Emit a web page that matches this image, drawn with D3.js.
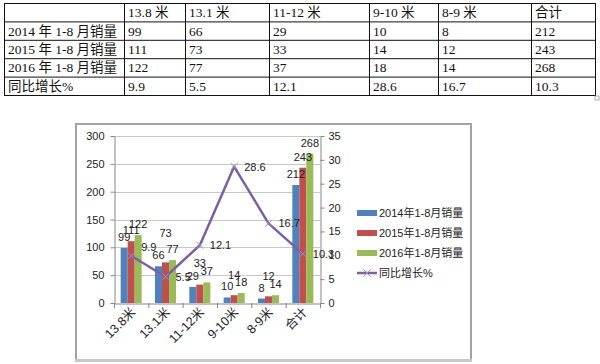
<!DOCTYPE html>
<html><head><meta charset="utf-8">
<script src="https://cdn.jsdelivr.net/npm/d3@7"></script>
<style>html,body{margin:0;padding:0;background:#fff}svg{display:block}</style>
</head><body>
<svg id="c" width="600" height="364"></svg>
<script>
// ---------- data ----------
const categories = ["13.8米", "13.1米", "11-12米", "9-10米", "8-9米", "合计"];
const tableHeaders = ["13.8 米", "13.1 米", "11-12 米", "9-10 米", "8-9 米", "合计"];
const seriesNames = ["2014年1-8月销量", "2015年1-8月销量", "2016年1-8月销量"];
const tableRowNames = ["2014 年 1-8 月销量", "2015 年 1-8 月销量", "2016 年 1-8 月销量", "同比增长%"];
const sales2014 = [99, 66, 29, 10, 8, 212];
const sales2015 = [111, 73, 33, 14, 12, 243];
const sales2016 = [122, 77, 37, 18, 14, 268];
const growth = [9.9, 5.5, 12.1, 28.6, 16.7, 10.3];
const growthName = "同比增长%";
const leftTicks = [0, 50, 100, 150, 200, 250, 300];
const rightTicks = [0, 5, 10, 15, 20, 25, 30, 35];

// ---------- style ----------
const colors = ["#4F81BD", "#C0504D", "#9BBB59"];
const lineColor = "#7D5FA3";
const sansCJK = "'Liberation Sans','Noto Sans CJK SC',sans-serif";
const serifCJK = "'Liberation Serif','Noto Sans CJK SC',serif";
// manual label nudges (px, vertical) as in the original
const barLabelNudge = {"1-1": -18, "1-2": -11, "1-3": -9, "1-4": -9};
const lineLabelNudge = {0: -9};

const svg = d3.select("#c");
const salesSeries = [sales2014, sales2015, sales2016];

// ---------- table ----------
const colEdges = [4, 124, 185, 269, 369, 438, 531, 595];
const rowY = d3.scaleLinear().domain([0, 5]).range([3, 95]);
const tg = svg.append("g");
const fmt = d => String(d);
const tableRows = [
  ["", ...tableHeaders],
  [tableRowNames[0], ...sales2014.map(fmt)],
  [tableRowNames[1], ...sales2015.map(fmt)],
  [tableRowNames[2], ...sales2016.map(fmt)],
  [tableRowNames[3], ...growth.map(d => d.toFixed(1))]
];
tableRows.forEach((row, r) => {
  row.forEach((txt, c) => {
    tg.append("text")
      .attr("x", colEdges[c] + 4)
      .attr("y", (rowY(r) + rowY(r + 1)) / 2 + 5)
      .attr("font-family", serifCJK)
      .attr("font-size", 13.5)
      .attr("fill", "#111")
      .text(txt);
  });
});
d3.range(6).forEach(r => {
  tg.append("line").attr("x1", colEdges[0]).attr("x2", colEdges[7])
    .attr("y1", rowY(r) + 0.5).attr("y2", rowY(r) + 0.5)
    .attr("stroke", "#111").attr("stroke-width", 1);
});
colEdges.forEach(x => {
  tg.append("line").attr("x1", x + 0.5).attr("x2", x + 0.5)
    .attr("y1", rowY(0)).attr("y2", rowY(5) + 1)
    .attr("stroke", "#111").attr("stroke-width", 1);
});
tg.append("rect").attr("x", 595).attr("y", 96).attr("width", 4).attr("height", 4)
  .attr("fill", "#fff").attr("stroke", "#999").attr("stroke-width", 0.8);

// ---------- chart frame ----------
svg.append("rect").attr("x", 76).attr("y", 124).attr("width", 395).attr("height", 236)
  .attr("fill", "#fff").attr("stroke", "#a3a3a3").attr("stroke-width", 2);
svg.append("rect").attr("x", 75).attr("y", 359).attr("width", 397).attr("height", 3)
  .attr("fill", "#c8c8c8");

// ---------- scales ----------
const x = d3.scaleBand().domain(categories).range([114, 320]).padding(0);
const xs = d3.scaleBand().domain(d3.range(3)).range([0, x.bandwidth()])
  .paddingInner(0).paddingOuter(0.95);
const yL = d3.scaleLinear().domain([0, 300]).range([303, 136]);
const yR = d3.scaleLinear().domain([0, 35]).range([303, 136]);

// gridlines
svg.append("g").selectAll("line").data(leftTicks.slice(1)).join("line")
  .attr("x1", 114).attr("x2", 320)
  .attr("y1", d => Math.round(yL(d)) + 0.5).attr("y2", d => Math.round(yL(d)) + 0.5)
  .attr("stroke", "#c9c9c9");

// bars
const bars = svg.append("g");
salesSeries.forEach((vals, s) => {
  bars.selectAll(null).data(vals).join("rect")
    .attr("x", (d, i) => x(categories[i]) + xs(s))
    .attr("y", d => yL(d))
    .attr("width", xs.bandwidth())
    .attr("height", d => yL(0) - yL(d))
    .attr("fill", colors[s]);
});

// axes
const axisColor = "#868686";
const styleAxis = g => {
  g.selectAll(".domain").attr("stroke", axisColor);
  g.selectAll(".tick line").attr("stroke", axisColor);
  g.selectAll("text").attr("font-family", sansCJK).attr("font-size", 11).attr("fill", "#222");
};
svg.append("g").attr("transform", "translate(114.5,0)")
  .call(d3.axisLeft(yL).tickValues(leftTicks).tickSize(4).tickPadding(6).tickSizeOuter(0))
  .call(styleAxis);
svg.append("g").attr("transform", "translate(320.5,0)")
  .call(d3.axisRight(yR).tickValues(rightTicks).tickSize(4).tickPadding(4).tickSizeOuter(0))
  .call(styleAxis);
svg.append("g").attr("transform", "translate(0,303.5)")
  .call(d3.axisBottom(x).tickSize(0).tickSizeOuter(0).tickFormat(""))
  .call(styleAxis);
// tick marks at category boundaries
svg.append("g").selectAll("line").data(categories.concat([null])).join("line")
  .attr("x1", (d, i) => 114 + i * x.step() + 0.5).attr("x2", (d, i) => 114 + i * x.step() + 0.5)
  .attr("y1", 303).attr("y2", 308).attr("stroke", axisColor);
// rotated category labels
svg.append("g").selectAll("text").data(categories).join("text")
  .attr("transform", d => `translate(${x(d) + x.bandwidth() / 2 + 5},${313}) rotate(-45)`)
  .attr("text-anchor", "end")
  .attr("font-family", sansCJK).attr("font-size", 12.5).attr("fill", "#222")
  .text(d => d);

// line
const cx = i => x(categories[i]) + x.bandwidth() / 2;
svg.append("path").datum(growth)
  .attr("d", d3.line().x((d, i) => cx(i)).y(d => yR(d)))
  .attr("fill", "none").attr("stroke", lineColor).attr("stroke-width", 2.5)
  .attr("stroke-linejoin", "round");
const mk = 3.5;
svg.append("g").selectAll("path").data(growth).join("path")
  .attr("d", (d, i) => `M${cx(i) - mk},${yR(d) - mk}L${cx(i) + mk},${yR(d) + mk}M${cx(i) - mk},${yR(d) + mk}L${cx(i) + mk},${yR(d) - mk}`)
  .attr("stroke", "#9f8cc0").attr("stroke-width", 1);

// bar labels
const lab = svg.append("g").attr("font-family", sansCJK).attr("font-size", 11).attr("fill", "#222");
salesSeries.forEach((vals, s) => {
  vals.forEach((v, i) => {
    lab.append("text")
      .attr("x", x(categories[i]) + xs(s) + xs.bandwidth() / 2)
      .attr("y", yL(v) - 7 + (barLabelNudge[s + "-" + i] || 0))
      .attr("text-anchor", "middle")
      .text(v);
  });
});
growth.forEach((v, i) => {
  lab.append("text")
    .attr("x", cx(i) + 10)
    .attr("y", yR(v) + 4 + (lineLabelNudge[i] || 0))
    .text(v.toFixed(1));
});

// legend
const legY = [213, 233, 253, 273];
const leg = svg.append("g").attr("font-family", sansCJK).attr("font-size", 11).attr("fill", "#222");
seriesNames.forEach((n, s) => {
  leg.append("rect").attr("x", 357).attr("y", legY[s] - 3).attr("width", 20).attr("height", 6)
    .attr("fill", colors[s]);
  leg.append("text").attr("x", 379).attr("y", legY[s] + 4).text(n);
});
leg.append("line").attr("x1", 357).attr("x2", 377).attr("y1", legY[3]).attr("y2", legY[3])
  .attr("stroke", lineColor).attr("stroke-width", 2.5);
leg.append("path")
  .attr("d", `M${367 - mk},${legY[3] - mk}L${367 + mk},${legY[3] + mk}M${367 - mk},${legY[3] + mk}L${367 + mk},${legY[3] - mk}`)
  .attr("stroke", "#9f8cc0").attr("stroke-width", 1);
leg.append("text").attr("x", 379).attr("y", legY[3] + 4).text(growthName);
</script>
</body></html>
